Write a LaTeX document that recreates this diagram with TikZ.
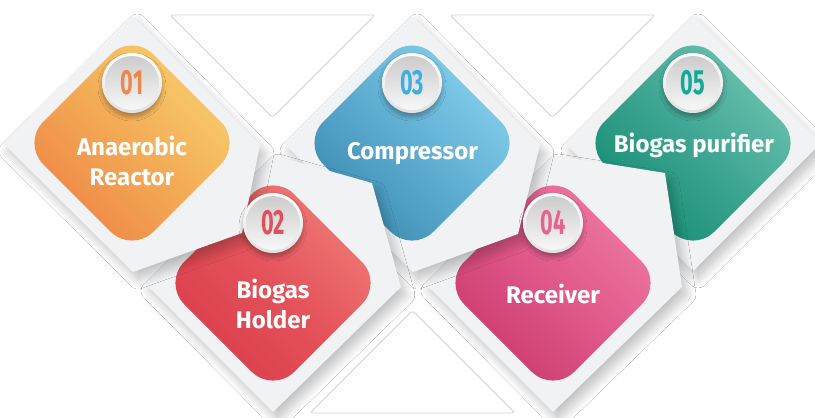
\documentclass[tikz,border=0pt]{standalone}
\usepackage{fontspec}
\usepackage{graphicx}
\setmainfont{Fira Sans}[Numbers=Lining]
\usetikzlibrary{shadows.blur}
\definecolor{panelgray}{HTML}{F1F2F4}
\definecolor{trigray}{HTML}{D2D2D4}
\definecolor{oA}{HTML}{F8D070}\definecolor{oB}{HTML}{F3AB55}\definecolor{oC}{HTML}{EE8446}
\definecolor{rA}{HTML}{F07E78}\definecolor{rB}{HTML}{E4525A}\definecolor{rC}{HTML}{D93C4A}
\definecolor{bA}{HTML}{88D2EE}\definecolor{bB}{HTML}{5FAED2}\definecolor{bC}{HTML}{3A88AF}
\definecolor{pA}{HTML}{EE7AA2}\definecolor{pB}{HTML}{E0588A}\definecolor{pC}{HTML}{C8386A}
\definecolor{tA}{HTML}{70C4B2}\definecolor{tB}{HTML}{3DA592}\definecolor{tC}{HTML}{138A70}
\definecolor{nO}{HTML}{EE8748}\definecolor{nR}{HTML}{E24F5C}\definecolor{nB}{HTML}{3AAEE5}
\definecolor{nP}{HTML}{E9628F}\definecolor{nT}{HTML}{0FAA98}
\newcommand\dmdpath[2]{(#1,#2-110) -- (#1+110,#2) -- (#1,#2+110) -- (#1-110,#2) -- cycle}
\begin{document}
\begin{tikzpicture}[x=1pt,y=-1pt,
  tri/.style={fill=white, draw=trigray, line width=0.8pt, rounded corners=3pt},
  panel/.style={fill=panelgray, blur shadow={shadow xshift=5pt, shadow yshift=-8pt,
     shadow blur radius=9pt, shadow blur steps=12, shadow opacity=24}},
  dmd/.style n args={3}{top color=#1, bottom color=#3, middle color=#2,
     shading angle=-45, rounded corners=30pt},
  badge/.style={top color=white, bottom color=black!12,
     blur shadow={shadow xshift=0pt, shadow yshift=-4pt, shadow blur radius=4pt,
     shadow blur steps=8, shadow opacity=30}},
  badgein/.style={top color=black!20, bottom color=black!3},
  num/.style={font=\fontsize{35}{35}\selectfont\bfseries, inner sep=0pt},
  lbl/.style={font=\fontsize{24}{30}\selectfont\bfseries, text=white, align=center, inner sep=0pt}]
\useasboundingbox (0,0) rectangle (815,418);
\fill[white] (0,0) rectangle (815,418);
% outline triangles
\path[tri] (170,15) -- (375,15) -- (272.5,117.5) -- cycle;
\path[tri] (450,15) -- (655,15) -- (552.5,117.5) -- cycle;
\path[tri] (310,413) -- (515,413) -- (412.5,310.5) -- cycle;
% panel 5
\path[panel] (693,15) -- (821,143) -- (693,271) -- (565,143) -- cycle;
\path[dmd={tA}{tB}{tC}] \dmdpath{693}{143};
% panel 4
\path[panel] (553,155) -- (665,173) -- (682,287) -- (553,412) -- (425,283) -- cycle;
\path[dmd={pA}{pB}{pC}] \dmdpath{553}{283};
% panel 3
\path[panel] (412,15) -- (540,145) -- (518,234) -- (413,272) -- (284,143) -- cycle;
\path[dmd={bA}{bB}{bC}] \dmdpath{412}{143};
% panel 2
\path[panel] (273,155) -- (372,183) -- (401,287) -- (273,412) -- (145,283) -- cycle;
\path[dmd={rA}{rB}{rC}] \dmdpath{273}{283};
% panel 1
\path[panel] (132,15) -- (260,145) -- (242,233) -- (133,272) -- (3,143) -- cycle;
\path[dmd={oA}{oB}{oC}] \dmdpath{132}{143};
% badges
\foreach \cx/\cy/\c/\t/\n in {132/83/nO/01/b1, 273/223/nR/02/b2, 412/83/nB/03/b3, 553/223/nP/04/b4, 693/83/nT/05/b5}{
  \path[badge] (\cx,\cy) circle (30);
  \path[badgein] (\cx,\cy) circle (27);
  \node[num, text=\c] (\n) at (\cx,\cy) {\scalebox{0.62}[1]{\t}};
}
% labels
\node[lbl, anchor=base] (l1) at (132,185) {Anaerobic\\Reactor};
\node[lbl, anchor=base] (l2) at (273,328) {Biogas\\Holder};
\node[lbl, anchor=base] (l3) at (412.5,159) {Compressor};
\node[lbl, anchor=base] (l4) at (553,303) {Receiver};
\node[lbl, anchor=base] (l5) at (694,152) {Biogas purifier};
\end{tikzpicture}
\end{document}
